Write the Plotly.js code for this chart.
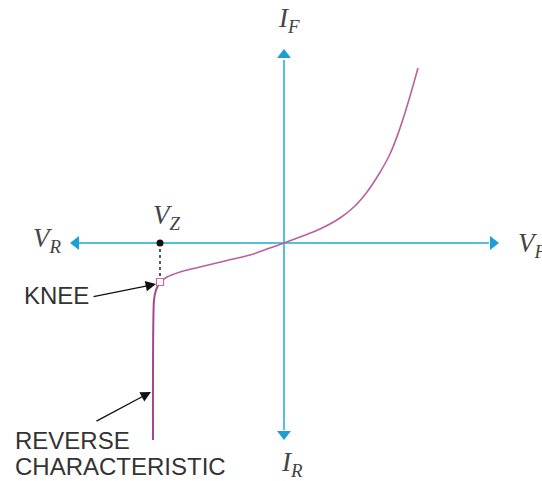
<!DOCTYPE html>
<html>
<head>
<meta charset="utf-8">
<script src="https://cdn.plot.ly/plotly-3.0.1.min.js"></script>
<style>html,body{margin:0;padding:0;background:#fff;}#chart{width:542px;height:481px;}</style>
</head>
<body>
<div id="chart"></div>
<script>
// Forward characteristic (from the knee up through the origin to the forward region)
const curveV = [-12.4, -11.7, -10.4, -8.4, -5.9, -3.4, -1.4, 0, 1.6, 3.6, 5.6, 7.1, 8.3, 9.5, 10.6, 11.5, 12.4, 13.4];
const curveI = [-3.9, -3.4, -2.9, -2.4, -1.8, -1.2, -0.5, 0, 0.6, 1.4, 2.5, 3.7, 5.1, 6.9, 8.9, 11.2, 14.0, 17.5];
// Reverse breakdown
const revV = [-12.4, -12.8, -13.0, -13.1];
const revI = [-3.9, -4.7, -5.7, -19.7];
// Knee and Vz
const kneeV = [-12.4];
const kneeI = [-3.9];
const vzV = [-12.4];
const vzI = [0];
// Axes
const hAxisV = [-20.5, 20.5];
const hAxisI = [0, 0];
const vAxisV = [0, 0];
const vAxisI = [18.3, -18.7];
const arrowLeft = [-20.8, 0];
const arrowRight = [20.9, 0];
const arrowUp = [0, 18.8];
const arrowDown = [0, -19.1];

const axisColor = '#55bfdf';
const headColor = '#1c9fd2';
const curveColor = '#b8619f';

const traces = [
  {x: hAxisV, y: hAxisI, mode: 'lines', line: {color: axisColor, width: 2}},
  {x: vAxisV, y: vAxisI, mode: 'lines', line: {color: axisColor, width: 2}},
  {x: [arrowLeft[0]], y: [arrowLeft[1]], mode: 'markers', marker: {symbol: 'triangle-left', size: 12, color: headColor}},
  {x: [arrowRight[0]], y: [arrowRight[1]], mode: 'markers', marker: {symbol: 'triangle-right', size: 12, color: headColor}},
  {x: [arrowUp[0]], y: [arrowUp[1]], mode: 'markers', marker: {symbol: 'triangle-up', size: 12, color: headColor}},
  {x: [arrowDown[0]], y: [arrowDown[1]], mode: 'markers', marker: {symbol: 'triangle-down', size: 12, color: headColor}},
  {x: curveV, y: curveI, mode: 'lines', line: {color: curveColor, width: 1.6, shape: 'spline', smoothing: 1.0}},
  {x: revV, y: revI, mode: 'lines', line: {color: '#a44690', width: 2, shape: 'spline', smoothing: 0.6}},
  {x: [vzV[0], kneeV[0]], y: [vzI[0], kneeI[0] + 0.4], mode: 'lines', line: {color: '#222', width: 1.5, dash: 'dot'}},
  {x: vzV, y: vzI, mode: 'markers', marker: {symbol: 'circle', size: 7, color: '#111'}},
  {x: kneeV, y: kneeI, mode: 'markers', marker: {symbol: 'square', size: 7, color: '#fff', line: {color: '#c06aa8', width: 1.2}}}
];

const labelFont = {family: 'Liberation Serif, Times New Roman, serif', size: 27, color: '#444'};
const textFont = {family: 'Liberation Sans, Arial, sans-serif', size: 24, color: '#333'};

const annotations = [
  {x: -25.3, y: 0.3, text: '<i>V</i><sub><i>R</i></sub>', showarrow: false, xanchor: 'left', yanchor: 'middle', font: labelFont},
  {x: 23.2, y: -0.2, text: '<i>V</i><sub><i>F</i></sub>', showarrow: false, xanchor: 'left', yanchor: 'middle', font: labelFont},
  {x: -0.8, y: 22.3, text: '<i>I</i><sub><i>F</i></sub>', showarrow: false, xanchor: 'left', yanchor: 'middle', font: labelFont},
  {x: -0.5, y: -22.1, text: '<i>I</i><sub><i>R</i></sub>', showarrow: false, xanchor: 'left', yanchor: 'middle', font: labelFont},
  {x: -13.3, y: 2.6, text: '<i>V</i><sub><i>Z</i></sub>', showarrow: false, xanchor: 'left', yanchor: 'middle', font: labelFont},
  {x: -26.2, y: -5.2, text: 'KNEE', showarrow: false, xanchor: 'left', yanchor: 'middle', font: textFont},
  {x: -27.1, y: -19.7, text: 'REVERSE', showarrow: false, xanchor: 'left', yanchor: 'middle', font: textFont},
  {x: -27.1, y: -22.3, text: 'CHARACTERISTIC', showarrow: false, xanchor: 'left', yanchor: 'middle', font: textFont},
  {x: -12.8, y: -4.1, ax: -19.2, ay: -5.4, axref: 'x', ayref: 'y', xref: 'x', yref: 'y', text: '', showarrow: true, arrowhead: 2, arrowsize: 1.6, arrowwidth: 1.3, arrowcolor: '#111'},
  {x: -13.3, y: -14.9, ax: -18.9, ay: -17.9, axref: 'x', ayref: 'y', xref: 'x', yref: 'y', text: '', showarrow: true, arrowhead: 2, arrowsize: 1.6, arrowwidth: 1.3, arrowcolor: '#111'}
];

const layout = {
  width: 542, height: 481,
  margin: {l: 0, r: 0, t: 0, b: 0},
  paper_bgcolor: '#fff', plot_bgcolor: '#fff',
  showlegend: false,
  xaxis: {range: [-28.4, 25.8], visible: false, fixedrange: true},
  yaxis: {range: [-23.8, 24.3], visible: false, fixedrange: true},
  annotations: annotations
};

Plotly.newPlot('chart', traces, layout, {displayModeBar: false, staticPlot: true});
</script>
</body>
</html>
